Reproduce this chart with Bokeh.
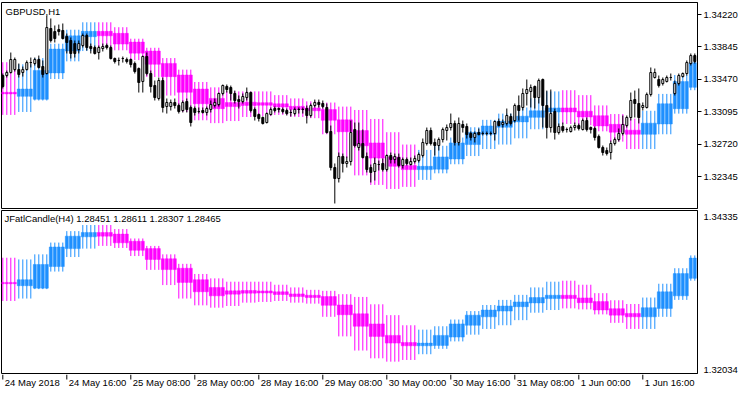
from bokeh.plotting import figure
from bokeh.layouts import column
from bokeh.models import ColumnDataSource, FixedTicker, NumeralTickFormatter, Label, Range1d
from bokeh.core.properties import value
from bokeh.embed import file_html
from bokeh.resources import INLINE

# ---------------- GBPUSD H1 candles ----------------
h1_open = [1.33514, 1.33514, 1.33549, 1.33583, 1.33583, 1.33549, 1.33583, 1.33664, 1.33653, 1.33699,
           1.33618, 1.33537, 1.34058, 1.34023, 1.34046, 1.34035, 1.33965, 1.33919, 1.33884, 1.33815,
           1.33861, 1.33977, 1.33850, 1.33838, 1.33780, 1.33826, 1.33861, 1.33838, 1.33711, 1.33688,
           1.33711, 1.33699, 1.33699, 1.33653, 1.33595, 1.33445, 1.33734, 1.33537, 1.33398, 1.33248,
           1.33456, 1.33155, 1.33155, 1.33202, 1.33167, 1.33109, 1.33213, 1.33144, 1.33132, 1.33097,
           1.33109, 1.33086, 1.33121, 1.33167, 1.33178, 1.33306, 1.33387, 1.33375, 1.33306, 1.33236,
           1.33213, 1.33259, 1.33317, 1.33121, 1.33063, 1.33028, 1.32970, 1.33063, 1.33132, 1.33132,
           1.33121, 1.33109, 1.33086, 1.33074, 1.33121, 1.33121, 1.33132, 1.33051, 1.33167, 1.33202,
           1.33190, 1.33144, 1.32866, 1.32449, 1.32322, 1.32577, 1.32496, 1.32519, 1.32889, 1.32681,
           1.32727, 1.32577, 1.32449, 1.32403, 1.32484, 1.32496, 1.32426, 1.32588, 1.32542, 1.32565,
           1.32473, 1.32542, 1.32484, 1.32519, 1.32530, 1.32588, 1.32727, 1.32878, 1.32739, 1.32704,
           1.32773, 1.32878, 1.32912, 1.32959, 1.32739, 1.32947, 1.32924, 1.32843, 1.32797, 1.32854,
           1.32843, 1.32843, 1.32843, 1.32843, 1.32982, 1.32947, 1.32959, 1.33040, 1.32993, 1.33167,
           1.33144, 1.33306, 1.33329, 1.33387, 1.33259, 1.33468, 1.33167, 1.32912, 1.33097, 1.32854,
           1.32924, 1.32889, 1.32866, 1.32912, 1.32935, 1.32889, 1.32993, 1.32912, 1.32901, 1.32808,
           1.32681, 1.32646, 1.32623, 1.32727, 1.32773, 1.32843, 1.32935, 1.33028, 1.33236, 1.33190,
           1.33144, 1.33144, 1.33294, 1.33491, 1.33468, 1.33421, 1.33445, 1.33491, 1.33306, 1.33421,
           1.33502, 1.33537, 1.33653, 1.33745]
h1_high = [1.33537, 1.33572, 1.33780, 1.33722, 1.33653, 1.33618, 1.33688, 1.33722, 1.33722, 1.33745,
           1.33688, 1.34208, 1.34174, 1.34093, 1.34104, 1.34116, 1.34000, 1.33954, 1.33919, 1.33919,
           1.34000, 1.34000, 1.33884, 1.33861, 1.33861, 1.33884, 1.33884, 1.33861, 1.33722, 1.33722,
           1.33734, 1.33722, 1.33711, 1.33676, 1.33607, 1.33745, 1.33780, 1.33572, 1.33456, 1.33491,
           1.33491, 1.33248, 1.33236, 1.33248, 1.33190, 1.33225, 1.33248, 1.33167, 1.33155, 1.33144,
           1.33144, 1.33155, 1.33225, 1.33248, 1.33317, 1.33410, 1.33410, 1.33398, 1.33340, 1.33283,
           1.33306, 1.33375, 1.33329, 1.33144, 1.33074, 1.33040, 1.33086, 1.33144, 1.33155, 1.33144,
           1.33144, 1.33132, 1.33121, 1.33144, 1.33144, 1.33144, 1.33167, 1.33190, 1.33236, 1.33236,
           1.33225, 1.33190, 1.32935, 1.32496, 1.32623, 1.32611, 1.32577, 1.32993, 1.32970, 1.32970,
           1.32889, 1.32623, 1.32484, 1.32565, 1.32530, 1.32554, 1.32600, 1.32623, 1.32611, 1.32611,
           1.32565, 1.32565, 1.32565, 1.32588, 1.32623, 1.32785, 1.32912, 1.32912, 1.32785, 1.32797,
           1.32912, 1.32947, 1.33074, 1.32993, 1.33028, 1.32993, 1.32959, 1.32866, 1.32866, 1.32901,
           1.32866, 1.32866, 1.32866, 1.32993, 1.33016, 1.33005, 1.33132, 1.33074, 1.33190, 1.33283,
           1.33364, 1.33468, 1.33410, 1.33398, 1.33479, 1.33479, 1.33340, 1.33352, 1.33132, 1.32959,
           1.32970, 1.32912, 1.32935, 1.32970, 1.32959, 1.33016, 1.33028, 1.32924, 1.32924, 1.32831,
           1.32704, 1.32681, 1.32762, 1.32797, 1.32901, 1.33051, 1.33051, 1.33317, 1.33340, 1.33364,
           1.33202, 1.33317, 1.33607, 1.33595, 1.33514, 1.33491, 1.33514, 1.33537, 1.33456, 1.33537,
           1.33549, 1.33688, 1.33769, 1.33769]
h1_low = [1.33364, 1.33491, 1.33537, 1.33560, 1.33491, 1.33502, 1.33572, 1.33607, 1.33630, 1.33595,
          1.33491, 1.33526, 1.33896, 1.33896, 1.33977, 1.33931, 1.33769, 1.33711, 1.33722, 1.33769,
          1.33838, 1.33803, 1.33769, 1.33757, 1.33699, 1.33792, 1.33815, 1.33699, 1.33653, 1.33630,
          1.33664, 1.33653, 1.33607, 1.33537, 1.33317, 1.33317, 1.33514, 1.33317, 1.33225, 1.33225,
          1.33086, 1.33074, 1.33109, 1.33132, 1.33074, 1.33086, 1.33086, 1.32924, 1.33051, 1.33074,
          1.33074, 1.33051, 1.33086, 1.33144, 1.33155, 1.33283, 1.33317, 1.33225, 1.33190, 1.33132,
          1.33190, 1.33225, 1.33086, 1.32993, 1.32982, 1.32947, 1.32959, 1.33051, 1.33086, 1.33086,
          1.33074, 1.33051, 1.33040, 1.33051, 1.33074, 1.33074, 1.32959, 1.33028, 1.33144, 1.33144,
          1.33132, 1.32843, 1.32415, 1.32033, 1.32276, 1.32392, 1.32449, 1.32473, 1.32681, 1.32646,
          1.32554, 1.32392, 1.32276, 1.32299, 1.32415, 1.32403, 1.32403, 1.32496, 1.32496, 1.32449,
          1.32438, 1.32473, 1.32473, 1.32496, 1.32507, 1.32565, 1.32704, 1.32704, 1.32588, 1.32646,
          1.32739, 1.32762, 1.32878, 1.32704, 1.32704, 1.32854, 1.32785, 1.32762, 1.32739, 1.32820,
          1.32820, 1.32820, 1.32820, 1.32762, 1.32924, 1.32912, 1.32935, 1.32935, 1.32970, 1.32993,
          1.33109, 1.33167, 1.33144, 1.33132, 1.33190, 1.32912, 1.32785, 1.32854, 1.32773, 1.32831,
          1.32854, 1.32854, 1.32854, 1.32878, 1.32878, 1.32878, 1.32866, 1.32843, 1.32762, 1.32669,
          1.32588, 1.32588, 1.32542, 1.32704, 1.32750, 1.32820, 1.32912, 1.32993, 1.33028, 1.32959,
          1.33109, 1.33132, 1.33271, 1.33479, 1.33375, 1.33398, 1.33433, 1.33456, 1.33283, 1.33398,
          1.33491, 1.33514, 1.33630, 1.33653]
h1_close = [1.33387, 1.33549, 1.33699, 1.33699, 1.33526, 1.33583, 1.33664, 1.33664, 1.33699, 1.33607,
            1.33526, 1.34069, 1.33919, 1.33942, 1.34023, 1.33942, 1.33896, 1.33769, 1.33769, 1.33884,
            1.33977, 1.33838, 1.33826, 1.33769, 1.33838, 1.33850, 1.33838, 1.33711, 1.33676, 1.33688,
            1.33711, 1.33676, 1.33641, 1.33560, 1.33433, 1.33734, 1.33537, 1.33387, 1.33259, 1.33456,
            1.33144, 1.33202, 1.33202, 1.33167, 1.33097, 1.33202, 1.33121, 1.32970, 1.33086, 1.33097,
            1.33086, 1.33132, 1.33178, 1.33202, 1.33306, 1.33398, 1.33352, 1.33306, 1.33225, 1.33213,
            1.33271, 1.33317, 1.33109, 1.33040, 1.33016, 1.32959, 1.33074, 1.33121, 1.33109, 1.33121,
            1.33097, 1.33074, 1.33086, 1.33121, 1.33121, 1.33121, 1.33051, 1.33167, 1.33202, 1.33178,
            1.33155, 1.32854, 1.32449, 1.32322, 1.32577, 1.32496, 1.32519, 1.32854, 1.32704, 1.32727,
            1.32565, 1.32426, 1.32392, 1.32496, 1.32484, 1.32426, 1.32588, 1.32542, 1.32577, 1.32473,
            1.32542, 1.32496, 1.32519, 1.32554, 1.32600, 1.32739, 1.32878, 1.32727, 1.32704, 1.32773,
            1.32889, 1.32912, 1.32959, 1.32739, 1.32959, 1.32912, 1.32831, 1.32797, 1.32843, 1.32831,
            1.32843, 1.32843, 1.32843, 1.32982, 1.32935, 1.32970, 1.33051, 1.32959, 1.33167, 1.33109,
            1.33306, 1.33352, 1.33375, 1.33259, 1.33456, 1.33167, 1.32912, 1.33074, 1.32854, 1.32924,
            1.32878, 1.32889, 1.32912, 1.32935, 1.32901, 1.32993, 1.32889, 1.32889, 1.32797, 1.32681,
            1.32623, 1.32611, 1.32727, 1.32773, 1.32843, 1.32947, 1.33028, 1.33225, 1.33190, 1.33028,
            1.33167, 1.33294, 1.33549, 1.33549, 1.33398, 1.33468, 1.33491, 1.33491, 1.33421, 1.33514,
            1.33537, 1.33664, 1.33745, 1.33676]

# ---------------- JFatlCandle(H4) candles ----------------
jf_open = [1.33320, 1.33273, 1.33239, 1.33544, 1.33797, 1.33963, 1.34025, 1.34002, 1.33901, 1.33797,
           1.33654, 1.33520, 1.33358, 1.33249, 1.33201, 1.33206, 1.33200, 1.33187, 1.33158, 1.33139,
           1.33120, 1.33001, 1.32877, 1.32734, 1.32572, 1.32472, 1.32425, 1.32430, 1.32548, 1.32715,
           1.32834, 1.32915, 1.32977, 1.33030, 1.33092, 1.33139, 1.33101, 1.33049, 1.32949, 1.32882,
           1.32834, 1.32953, 1.33130, 1.33377]
jf_high = [1.33668, 1.33644, 1.33716, 1.33882, 1.34044, 1.34130, 1.34130, 1.34073, 1.33940, 1.33835,
           1.33716, 1.33582, 1.33439, 1.33377, 1.33330, 1.33330, 1.33330, 1.33287, 1.33249, 1.33215,
           1.33201, 1.33154, 1.33115, 1.33011, 1.32858, 1.32715, 1.32653, 1.32701, 1.32796, 1.32915,
           1.33001, 1.33073, 1.33144, 1.33249, 1.33330, 1.33344, 1.33287, 1.33168, 1.33068, 1.33015,
           1.33106, 1.33301, 1.33520, 1.33701]
jf_low = [1.33058, 1.33092, 1.33225, 1.33473, 1.33678, 1.33797, 1.33835, 1.33806, 1.33692, 1.33497,
          1.33282, 1.33092, 1.32996, 1.32963, 1.32987, 1.33034, 1.33044, 1.33058, 1.33034, 1.33020,
          1.32834, 1.32558, 1.32358, 1.32248, 1.32201, 1.32225, 1.32306, 1.32382, 1.32487, 1.32582,
          1.32663, 1.32715, 1.32787, 1.32892, 1.32930, 1.32953, 1.32939, 1.32868, 1.32749, 1.32663,
          1.32663, 1.32834, 1.33073, 1.33344]
jf_close = [1.33301, 1.33358, 1.33573, 1.33820, 1.33973, 1.34025, 1.33973, 1.33878, 1.33773, 1.33644,
            1.33501, 1.33320, 1.33187, 1.33130, 1.33154, 1.33168, 1.33170, 1.33149, 1.33120, 1.33106,
            1.32996, 1.32863, 1.32701, 1.32558, 1.32463, 1.32425, 1.32463, 1.32572, 1.32734, 1.32858,
            1.32930, 1.32987, 1.33044, 1.33106, 1.33139, 1.33092, 1.33034, 1.32930, 1.32858, 1.32834,
            1.32963, 1.33187, 1.33444, 1.33663]
h1_per_h4 = 4

# ---------------- axes / labels ----------------
time_tick_bars = [0, 16, 32, 48, 64, 80, 96, 112, 128, 144, 160]
time_tick_labels = ["24 May 2018", "24 May 16:00", "25 May 08:00", "28 May 00:00", "28 May 16:00",
                    "29 May 08:00", "30 May 00:00", "30 May 16:00", "31 May 08:00", "1 Jun 00:00",
                    "1 Jun 16:00"]
top_price_ticks = [1.32345, 1.32720, 1.33095, 1.33470, 1.33845, 1.34220]
top_price_range = (1.31975, 1.34359)
ind_price_max = 1.34335
ind_price_min = 1.32034
symbol_title = "GBPUSD,H1"
ind_title = "JFatlCandle(H4) 1.28451 1.28611 1.28307 1.28465"

BULL = "#1E90FF"
BEAR = "#FF00FF"
FONT = "Liberation Sans"
FS = "9.5px"

n = len(h1_open)
idx = list(range(n))

h1_src = ColumnDataSource(dict(
    x=idx, h=h1_high, l=h1_low,
    top=[max(o, c) for o, c in zip(h1_open, h1_close)],
    bot=[min(o, c) for o, c in zip(h1_open, h1_close)],
    fill=["white" if c >= o else "black" for o, c in zip(h1_open, h1_close)],
))

g = [i // h1_per_h4 for i in idx]
jf_src = ColumnDataSource(dict(
    x=idx,
    h=[jf_high[k] for k in g],
    l=[jf_low[k] for k in g],
    top=[max(jf_open[k], jf_close[k]) for k in g],
    bot=[min(jf_open[k], jf_close[k]) for k in g],
    col=[BULL if jf_close[k] >= jf_open[k] else BEAR for k in g],
))

# ---------------- layout constants (pixels) ----------------
W = 750
FRAME_W = 696
RIGHT = W - 1 - FRAME_W
TOP_H = 209          # 2 + 206 + 1
IND_FRAME_H = 163
IND_H = 1 + IND_FRAME_H + 1
STRIP_H = 394 - TOP_H - IND_H
x_rng = Range1d(-0.325, -0.325 + FRAME_W / 4.0)


def style(p):
    p.outline_line_color = "black"
    p.outline_line_width = 1
    p.outline_line_alpha = 1
    p.background_fill_color = "white"
    p.border_fill_color = "white"
    p.xgrid.visible = False
    p.ygrid.visible = False
    ax = p.yaxis[0]
    ax.axis_line_color = "black"
    ax.major_tick_out = 4
    ax.major_tick_in = 0
    ax.minor_tick_out = 0
    ax.minor_tick_in = 0
    ax.major_label_standoff = 2
    ax.major_label_text_font = FONT
    ax.major_label_text_font_size = FS
    ax.major_label_text_color = "black"
    ax.formatter = NumeralTickFormatter(format="0.00000")


def draw_jf(p):
    p.segment(x0="x", y0="l", x1="x", y1="h", source=jf_src, line_color="col", line_width=1)
    p.vbar(x="x", top="top", bottom="bot", width=0.75, source=jf_src,
           fill_color="col", line_color="col", line_width=0.5)


# ---------- top pane: price chart ----------
p1 = figure(width=W, height=TOP_H, x_range=x_rng, y_range=Range1d(*top_price_range),
            output_backend="svg", toolbar_location=None, x_axis_location=None,
            y_axis_location="right", min_border_left=1, min_border_right=RIGHT,
            min_border_top=2, min_border_bottom=1)
style(p1)
p1.yaxis[0].ticker = FixedTicker(ticks=top_price_ticks)
draw_jf(p1)
p1.segment(x0="x", y0="l", x1="x", y1="h", source=h1_src, line_color="black", line_width=1)
p1.vbar(x="x", top="top", bottom="bot", width=0.5, source=h1_src,
        fill_color="fill", line_color="black", line_width=1)
p1.add_layout(Label(x=4, y=203, x_units="screen", y_units="screen", text=symbol_title,
                    text_baseline="top", text_align="left", text_font=FONT,
                    text_font_size=FS, text_color="black"))

# ---------- bottom pane: indicator ----------
ind_span = ind_price_max - ind_price_min
lab_top = ind_price_max - 6 * ind_span / IND_FRAME_H     # label kept inside the pane, as in MT5
lab_bot = ind_price_min + 4 * ind_span / IND_FRAME_H
p2 = figure(width=W, height=IND_H, x_range=x_rng,
            y_range=Range1d(ind_price_min, ind_price_max),
            output_backend="svg", toolbar_location=None, x_axis_location=None,
            y_axis_location="right", min_border_left=1, min_border_right=RIGHT,
            min_border_top=1, min_border_bottom=1)
style(p2)
ya = p2.yaxis[0]
ya.ticker = FixedTicker(ticks=[lab_bot, lab_top])
ya.major_label_overrides = {lab_bot: f"{ind_price_min:.5f}", lab_top: f"{ind_price_max:.5f}"}
ya.major_tick_out = 0
ya.major_label_standoff = 6
draw_jf(p2)
p2.add_layout(Label(x=3, y=IND_FRAME_H - 2, x_units="screen", y_units="screen", text=ind_title,
                    text_baseline="top", text_align="left", text_font=FONT,
                    text_font_size=FS, text_color="black"))

# ---------- time scale strip ----------
p3 = figure(width=W, height=STRIP_H, x_range=x_rng, y_range=Range1d(-STRIP_H, 0),
            output_backend="svg", toolbar_location=None, x_axis_location=None,
            y_axis_location=None, min_border_left=1, min_border_right=RIGHT,
            min_border_top=0, min_border_bottom=0)
p3.outline_line_color = None
p3.background_fill_color = "white"
p3.border_fill_color = "white"
p3.xgrid.visible = False
p3.ygrid.visible = False
time_src = ColumnDataSource(dict(x=time_tick_bars, text=time_tick_labels))
p3.segment(x0="x", y0=0, x1="x", y1=-5, source=time_src, line_color="black", line_width=1)
p3.text(x="x", y=-2, text="text", source=time_src, x_offset=2, text_baseline="top",
        text_align="left", text_font=value(FONT), text_font_size=value(FS), text_color="black")

layout = column(p1, p2, p3, spacing=0)
open("out.html", "w").write(file_html(layout, INLINE))
